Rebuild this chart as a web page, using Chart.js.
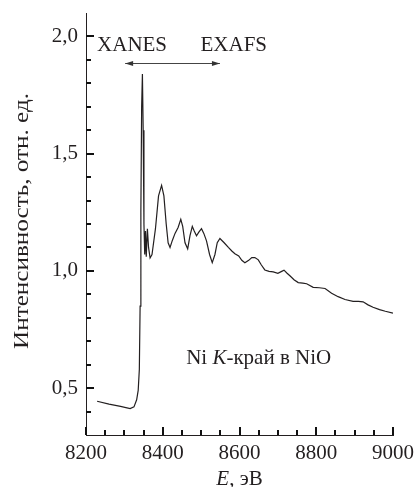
<!DOCTYPE html>
<html>
<head>
<meta charset="utf-8">
<script src="https://cdn.jsdelivr.net/npm/chart.js@4.4.0/dist/chart.umd.min.js"></script>
<style>
html,body{margin:0;padding:0;background:#fff;}
#wrap{width:420px;height:487px;position:relative;}
</style>
</head>
<body>
<div id="wrap"><canvas id="c"></canvas></div>
<script>
// ---- data ----
const energy = [8229,8260,8290,8315,8325,8332,8336,8339,8341,8343,8345,8347,8349,8351,8353,8355,8357,8360,8363,8367,8372,8381,8389,8397,8403,8409,8414,8419,8425,8432,8440,8447,8452,8458,8465,8471,8477,8482,8488,8494,8501,8507,8514,8522,8529,8536,8542,8549,8560,8571,8580,8588,8598,8606,8614,8624,8632,8640,8649,8657,8666,8677,8688,8700,8710,8716,8724,8732,8742,8753,8765,8775,8792,8808,8823,8840,8857,8875,8896,8910,8922,8935,8948,8965,8980,9000];
const intensity = [0.444,0.432,0.422,0.413,0.42,0.45,0.49,0.58,0.85,1.25,1.70,1.84,1.60,1.20,1.07,1.17,1.06,1.18,1.10,1.055,1.07,1.18,1.32,1.365,1.32,1.20,1.12,1.10,1.13,1.16,1.185,1.22,1.19,1.12,1.094,1.15,1.19,1.17,1.15,1.165,1.18,1.16,1.128,1.07,1.035,1.07,1.12,1.138,1.12,1.10,1.085,1.073,1.064,1.045,1.035,1.045,1.057,1.057,1.047,1.025,1.004,0.998,0.996,0.99,0.998,1.003,0.99,0.978,0.962,0.95,0.948,0.945,0.93,0.928,0.925,0.905,0.89,0.878,0.87,0.87,0.868,0.855,0.845,0.835,0.828,0.82];
const xTickLabels = [8200,8400,8600,8800,9000];
const yTickLabels = [0.5,1.0,1.5,2.0];
const xMinorStep = 50;
const yMinorStep = 0.1;
const regionLabels = ['XANES','EXAFS'];
const sampleLabel = ['Ni ', 'K', '-край в NiO'];
const yTitle = 'Интенсивность, отн. ед.';
const xTitle = ['E', ', эВ'];

const FONT = '"Liberation Serif","Times New Roman",serif';
const INK = '#231f20';

const annotate = {
  id:'annotate',
  afterDraw(chart){
    const ctx = chart.ctx;
    const x = chart.scales.x, y = chart.scales.y;
    const L = Math.round(chart.chartArea.left), B = Math.round(chart.chartArea.bottom);
    ctx.save();
    ctx.fillStyle = '#111';
    // inner tick marks (major + minor)
    const nx = Math.round((x.max - x.min) / xMinorStep);
    for (let i = 0; i <= nx; i++) {
      const v = x.min + i * xMinorStep;
      const major = (i % 4) === 0;
      const px = Math.round(x.getPixelForValue(v));
      const len = major ? 8 : 5;
      ctx.fillRect(px - 1, B - len, 2, len);
    }
    const ny = Math.round((y.max - y.min) / yMinorStep);
    for (let i = 1; i < ny; i++) {
      const v = y.min + i * yMinorStep;
      const major = Math.abs(v * 2 - Math.round(v * 2)) < 1e-6;
      const py = Math.round(y.getPixelForValue(v));
      const len = major ? 8 : 5;
      ctx.fillRect(L, py - 1, len, 2);
    }
    // double arrow XANES <-> EXAFS
    ctx.lineWidth = 1;
    const ay = Math.round(y.getPixelForValue(1.885))+0.5;
    const a1 = x.getPixelForValue(8302), a2 = x.getPixelForValue(8549);
    ctx.strokeStyle = '#444'; ctx.fillStyle = '#333';
    ctx.beginPath(); ctx.moveTo(a1, ay); ctx.lineTo(a2, ay); ctx.stroke();
    const head = (px, dir) => { ctx.beginPath(); ctx.moveTo(px, ay); ctx.lineTo(px - dir*8, ay-2.5); ctx.lineTo(px - dir*8, ay+2.5); ctx.closePath(); ctx.fill(); };
    head(a1, -1); head(a2, 1);
    // region labels
    ctx.fillStyle = INK;
    ctx.font = '21px ' + FONT;
    ctx.textAlign = 'center'; ctx.textBaseline = 'middle';
    ctx.fillText(regionLabels[0], x.getPixelForValue(8320), y.getPixelForValue(1.962));
    ctx.fillText(regionLabels[1], x.getPixelForValue(8585), y.getPixelForValue(1.962));
    // mixed-style text helper
    const drawMixed = (parts, italicIdx, cx, cy) => {
      const fonts = parts.map((p,i) => (i===italicIdx ? 'italic ' : '') + '21px ' + FONT);
      const widths = parts.map((p,i) => { ctx.font = fonts[i]; return ctx.measureText(p).width; });
      let sx = cx - widths.reduce((a,b)=>a+b,0)/2;
      ctx.textAlign = 'left';
      parts.forEach((p,i) => { ctx.font = fonts[i]; ctx.fillText(p, sx, cy); sx += widths[i]; });
    };
    drawMixed(sampleLabel, 1, x.getPixelForValue(8650), y.getPixelForValue(0.628));
    drawMixed(xTitle, 0, (x.left + x.right)/2, 479);
    // y title (rotated, stretched to the reference length)
    ctx.font = '21px ' + FONT;
    const w = ctx.measureText(yTitle).width;
    ctx.translate(22, (y.top + y.bottom)/2 - 3);
    ctx.rotate(-Math.PI/2);
    ctx.scale(256 / w, 1);
    ctx.textAlign = 'center'; ctx.textBaseline = 'middle';
    ctx.fillText(yTitle, 0, 0);
    ctx.restore();
  }
};

new Chart(document.getElementById('c'), {
  type:'line',
  data:{
    datasets:[{
      data: energy.map((e,i)=>({x:e, y:intensity[i]})),
      borderColor: INK,
      borderWidth: 1.2,
      pointRadius: 0,
      tension: 0,
      fill: false
    }]
  },
  options:{
    responsive:true,
    maintainAspectRatio:false,
    animation:false,
    devicePixelRatio:1,
    layout:{padding:{top:13,right:27,left:0,bottom:0}},
    plugins:{legend:{display:false},tooltip:{enabled:false}},
    scales:{
      x:{
        type:'linear', min:8200, max:9000,
        afterBuildTicks: s => { s.ticks = xTickLabels.map(v=>({value:v})); },
        afterFit: s => { s.height = 52; s.paddingLeft = 0; s.paddingRight = 0; },
        grid:{display:false, drawTicks:false},
        border:{display:true, color:INK, width:1},
        ticks:{color:INK, padding:6, maxRotation:0, autoSkip:false,
               font:{family:FONT, size:21}, callback: v => String(v)}
      },
      y:{
        type:'linear', min:0.3, max:2.1,
        afterBuildTicks: s => { s.ticks = yTickLabels.map(v=>({value:v})); },
        afterFit: s => { s.width = 86; s.paddingTop = 0; s.paddingBottom = 0; },
        grid:{display:false, drawTicks:false},
        border:{display:true, color:INK, width:1},
        ticks:{color:INK, padding:8, autoSkip:false,
               font:{family:FONT, size:21}, callback: v => v.toFixed(1).replace('.', ',')}
      }
    }
  },
  plugins:[annotate]
});
</script>
</body>
</html>
